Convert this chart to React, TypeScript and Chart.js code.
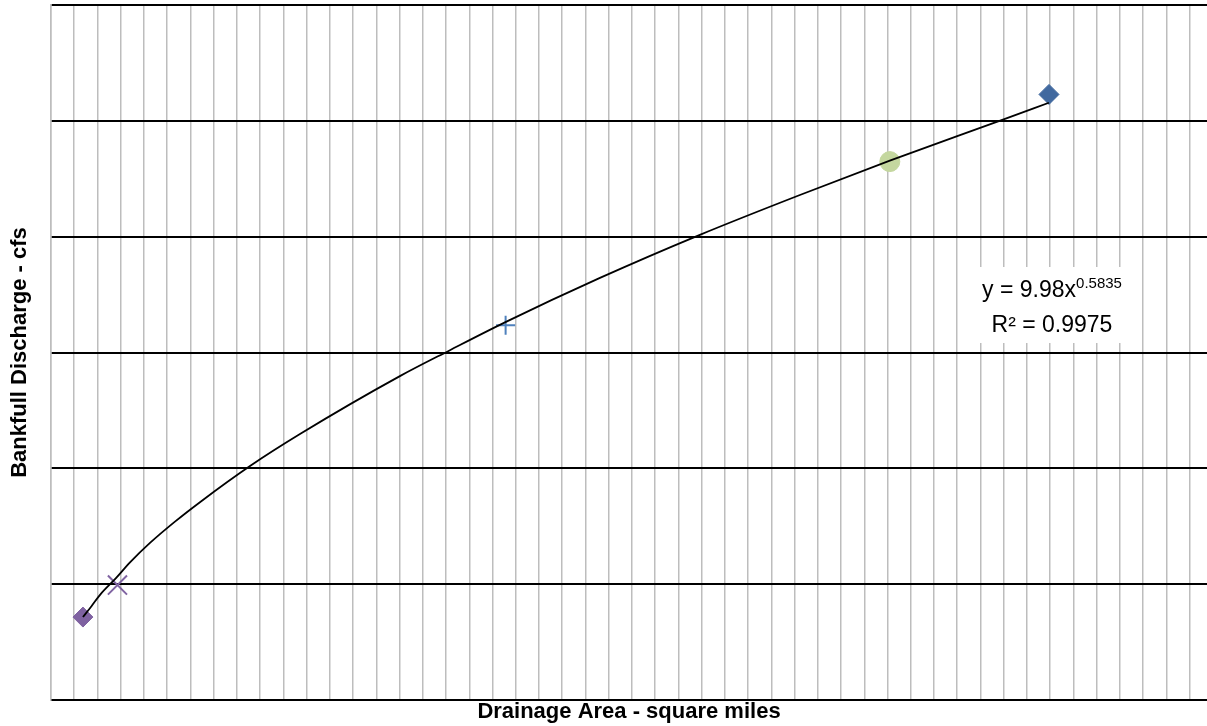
import React, { useEffect, useRef } from "react";
import { Chart, registerables } from "chart.js";

Chart.register(...registerables);

// Power trendline (drainage area, discharge)
const trendX = [2.75, 3.5, 4.22, 5.59, 6.8, 8.52, 10.67, 12.82, 17.13, 21.43, 30.03, 34.34, 39.07, 47.25, 55.85, 64.46, 72.2, 81.76, 85.89];
const trendY = [17.9, 20.3, 22.7, 26.3, 29.7, 33.9, 38.5, 42.7, 50.5, 57.4, 69.9, 75.5, 81.5, 91.1, 100.4, 109.0, 116.4, 125.1, 128.9];

// Survey sites (one series each)
const siteX = [2.75, 5.72, 39.13, 72.2, 85.9];
const siteY = [17.9, 24.8, 80.9, 116.2, 130.7];
const siteColors = ["#7F62A1", "#8064A2", "#4F81BD", "#C4D79F", "#41699F"];
const siteShapes = ["rectRot", "crossRot", "cross", "circle", "rectRot"];
const siteRadius = [10, 13.5, 9.5, 10, 10];

const xTitle = "Drainage Area - square miles";
const yTitle = "Bankfull Discharge - cfs";
const eqMain = "y = 9.98x";
const eqExp = "0.5835";
const eqR2 = "R² = 0.9975";

const xMin = 0;
const xMax = 99.5;
const xStep = 2;
const yMin = 0;
const yMax = 150;
const yStep = 25;

const FONT = '"Liberation Sans", Arial, sans-serif';

export default function App() {
  const ref = useRef<HTMLCanvasElement | null>(null);

  useEffect(() => {
    if (!ref.current) return;

    const labelPlugin = {
      id: "eqLabel",
      afterDraw(chart: any) {
        const ctx = chart.ctx;
        const cx = 1052;
        ctx.save();
        ctx.fillStyle = "#ffffff";
        ctx.fillRect(972, 267, 160, 76);
        ctx.fillStyle = "#000000";
        ctx.textBaseline = "alphabetic";
        ctx.font = `23px ${FONT}`;
        const wMain = ctx.measureText(eqMain).width;
        ctx.font = `15px ${FONT}`;
        const wExp = ctx.measureText(eqExp).width;
        const start = cx - (wMain + wExp) / 2;
        ctx.font = `23px ${FONT}`;
        ctx.textAlign = "left";
        ctx.fillText(eqMain, start, 297);
        ctx.font = `15px ${FONT}`;
        ctx.fillText(eqExp, start + wMain, 288);
        ctx.font = `23px ${FONT}`;
        ctx.textAlign = "center";
        ctx.fillText(eqR2, cx, 332);
        ctx.restore();
      },
    };

    const datasets: any[] = [
      {
        label: "Trend",
        type: "line",
        data: trendX.map((x, i) => ({ x, y: trendY[i] })),
        borderColor: "#000000",
        borderWidth: 1.8,
        pointRadius: 0,
        showLine: true,
        fill: false,
        cubicInterpolationMode: "monotone",
      },
      ...siteX.map((x, i) => ({
        label: "Site " + (i + 1),
        type: "scatter",
        data: [{ x, y: siteY[i] }],
        pointStyle: siteShapes[i],
        pointRadius: siteRadius[i],
        backgroundColor: siteColors[i],
        borderColor: siteColors[i],
        pointBorderWidth: siteShapes[i].startsWith("cross") ? 2 : 1,
        showLine: false,
      })),
    ];

    const chart = new Chart(ref.current, {
      type: "scatter",
      data: { datasets },
      plugins: [labelPlugin],
      options: {
        responsive: false,
        animation: false,
        layout: { autoPadding: false, padding: { top: 5, right: 0, left: 0, bottom: 0 } },
        plugins: {
          legend: { display: false },
          tooltip: { enabled: false },
        },
        scales: {
          x: {
            type: "linear",
            min: xMin,
            max: xMax,
            ticks: { display: false, stepSize: xStep },
            afterBuildTicks(scale: any) {
              const t: any[] = [];
              for (let v = xMin; v <= xMax + 1e-9; v += xStep) t.push({ value: v });
              scale.ticks = t;
            },
            afterFit(scale: any) {
              scale.height = 26;
            },
            grid: {
              color: "#bdbdbd",
              lineWidth: 1.5,
              drawTicks: false,
            },
            border: { display: true, color: "#000000", width: 2 },
            title: {
              display: true,
              text: xTitle,
              color: "#000000",
              font: { family: FONT, size: 22, weight: "bold", lineHeight: 1.2 },
              padding: { top: 0, bottom: 1 },
            },
          },
          y: {
            type: "linear",
            min: yMin,
            max: yMax,
            ticks: { display: false, stepSize: yStep },
            afterFit(scale: any) {
              scale.width = 51;
            },
            grid: {
              color: "#000000",
              lineWidth: 2,
              drawTicks: false,
            },
            border: { display: true, color: "#bdbdbd", width: 1.5 },
            title: {
              display: true,
              text: yTitle,
              color: "#000000",
              font: { family: FONT, size: 22, weight: "bold", lineHeight: 1.2 },
              padding: { top: 7, bottom: 0 },
            },
          },
        },
      } as any,
    } as any);

    return () => chart.destroy();
  }, []);

  return (
    <div style={{ position: "fixed", left: 0, top: 0, width: 1207, height: 726, background: "#ffffff" }}>
      <canvas ref={ref} width={1207} height={726} style={{ display: "block" }} />
    </div>
  );
}
